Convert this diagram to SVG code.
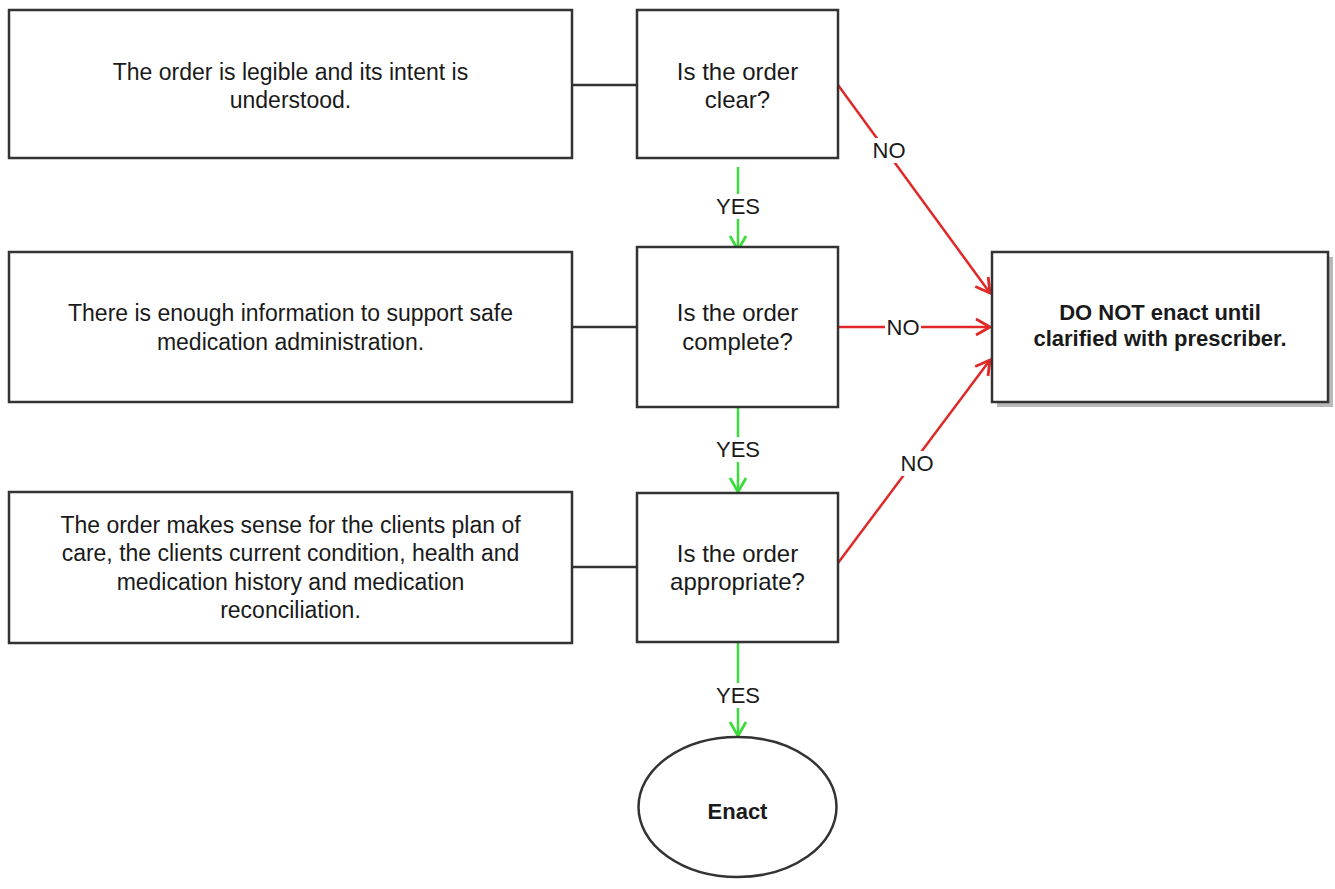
<svg xmlns="http://www.w3.org/2000/svg" width="1335" height="889" viewBox="0 0 1335 889">
  <defs>
    <style>
      .box { fill: #ffffff; stroke: #333333; stroke-width: 2.5; }
      .shadow { fill: #8a8a8a; opacity: 0.6; }
      .txt { font-family: "Liberation Sans", Arial, sans-serif; font-size: 23px; fill: #1a1a1a; text-anchor: middle; }
      .dtxt { font-family: "Liberation Sans", Arial, sans-serif; font-size: 24px; fill: #1a1a1a; text-anchor: middle; }
      .btxt { font-family: "Liberation Sans", Arial, sans-serif; font-size: 22px; font-weight: bold; fill: #1a1a1a; text-anchor: middle; }
      .lbl { font-family: "Liberation Sans", Arial, sans-serif; font-size: 22px; fill: #1a1a1a; text-anchor: middle; }
      .lblbg { fill: #ffffff; }
      .link { fill: none; stroke: #333333; stroke-width: 2.5; }
      .yes { fill: none; stroke: #3ddc3d; stroke-width: 2.5; }
      .no { fill: none; stroke: #e02828; stroke-width: 2.5; }
    </style>
    <marker id="arrGreen" markerUnits="userSpaceOnUse" markerWidth="22" markerHeight="22" viewBox="0 0 22 22" refX="16" refY="11" orient="auto">
      <path d="M2,3 L16,11 L2,19" fill="none" stroke="#3ddc3d" stroke-width="2.8"/>
    </marker>
    <marker id="arrRed" markerUnits="userSpaceOnUse" markerWidth="22" markerHeight="22" viewBox="0 0 22 22" refX="16" refY="11" orient="auto">
      <path d="M2,3 L16,11 L2,19" fill="none" stroke="#e02828" stroke-width="2.8"/>
    </marker>
  </defs>
  <rect width="1335" height="889" fill="#ffffff"/>

  <g id="connectors">
    <line class="link" x1="572" y1="85" x2="637" y2="85"/>
    <line class="link" x1="572" y1="327" x2="637" y2="327"/>
    <line class="link" x1="572" y1="567" x2="637" y2="567"/>

    <line class="yes" x1="738" y1="167" x2="738" y2="250" marker-end="url(#arrGreen)"/>
    <line class="yes" x1="738" y1="407" x2="738" y2="492" marker-end="url(#arrGreen)"/>
    <line class="yes" x1="738" y1="642" x2="738" y2="736" marker-end="url(#arrGreen)"/>

    <line class="no" x1="838" y1="85" x2="990" y2="293" marker-end="url(#arrRed)"/>
    <line class="no" x1="838" y1="327" x2="990" y2="327" marker-end="url(#arrRed)"/>
    <line class="no" x1="838" y1="563" x2="990" y2="360" marker-end="url(#arrRed)"/>

    <rect class="lblbg" x="716" y="194" width="44" height="25"/>
    <text class="lbl" x="738" y="214">YES</text>
    <rect class="lblbg" x="716" y="437" width="44" height="25"/>
    <text class="lbl" x="738" y="457">YES</text>
    <rect class="lblbg" x="716" y="683" width="44" height="25"/>
    <text class="lbl" x="738" y="703">YES</text>

    <rect class="lblbg" x="872" y="138" width="34" height="25"/>
    <text class="lbl" x="889" y="158">NO</text>
    <rect class="lblbg" x="885" y="315" width="36" height="25"/>
    <text class="lbl" x="903" y="335">NO</text>
    <rect class="lblbg" x="900" y="451" width="34" height="25"/>
    <text class="lbl" x="917" y="471">NO</text>
  </g>

  <g id="info1">
    <rect class="box" x="9" y="10" width="563" height="148"/>
    <text class="txt" x="290.5" y="80">The order is legible and its intent is</text>
    <text class="txt" x="290.5" y="108">understood.</text>
  </g>
  <g id="q1">
    <rect class="box" x="637" y="10" width="201" height="148"/>
    <text class="dtxt" x="737.5" y="80">Is the order</text>
    <text class="dtxt" x="737.5" y="108">clear?</text>
  </g>

  <g id="info2">
    <rect class="box" x="9" y="252" width="563" height="150"/>
    <text class="txt" x="290.5" y="321">There is enough information to support safe</text>
    <text class="txt" x="290.5" y="350">medication administration.</text>
  </g>
  <g id="q2">
    <rect class="box" x="637" y="247" width="201" height="160"/>
    <text class="dtxt" x="737.5" y="321">Is the order</text>
    <text class="dtxt" x="737.5" y="350">complete?</text>
  </g>

  <g id="info3">
    <rect class="box" x="9" y="492" width="563" height="151"/>
    <text class="txt" x="290.5" y="533">The order makes sense for the clients plan of</text>
    <text class="txt" x="290.5" y="561">care, the clients current condition, health and</text>
    <text class="txt" x="290.5" y="590">medication history and medication</text>
    <text class="txt" x="290.5" y="618">reconciliation.</text>
  </g>
  <g id="q3">
    <rect class="box" x="637" y="493" width="201" height="149"/>
    <text class="dtxt" x="737.5" y="562">Is the order</text>
    <text class="dtxt" x="737.5" y="590">appropriate?</text>
  </g>

  <g id="stop">
    <rect class="shadow" x="997" y="257" width="336" height="150"/>
    <rect class="box" x="992" y="252" width="336" height="150"/>
    <text class="btxt" x="1160" y="320">DO NOT enact until</text>
    <text class="btxt" x="1160" y="346">clarified with prescriber.</text>
  </g>

  <g id="enact">
    <ellipse class="box" cx="737.5" cy="807" rx="99" ry="70"/>
    <text class="btxt" x="737.5" y="819">Enact</text>
  </g>
</svg>
